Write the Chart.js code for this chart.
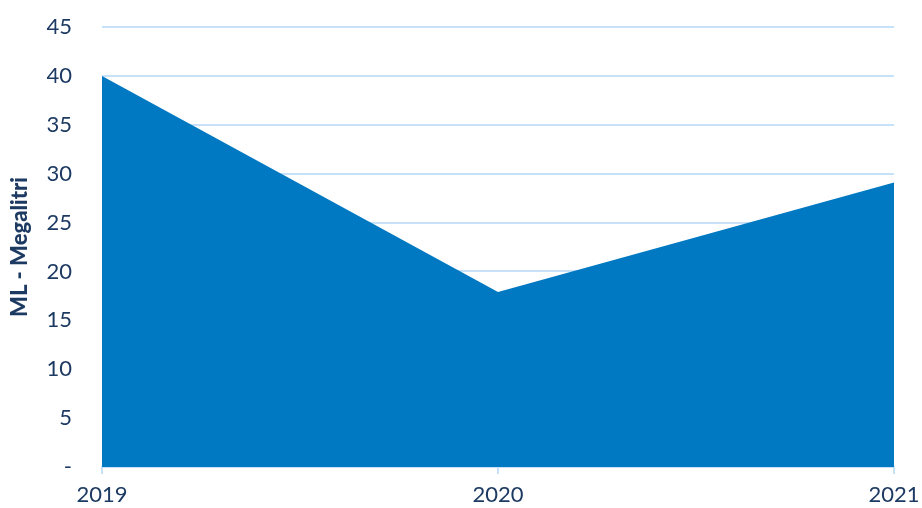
<!DOCTYPE html>
<html>
<head>
<meta charset="utf-8">
<script src="https://cdn.jsdelivr.net/npm/chart.js@4"></script>
<style>
html,body{margin:0;padding:0;background:#fff;}
#wrap{width:922px;height:508px;position:relative;}
</style>
</head>
<body>
<div id="wrap"><canvas id="c" width="922" height="508"></canvas></div>
<script>
const years = ['2019', '2020', '2021'];
const megalitri = [40, 17.9, 29.1];
const yTicks = [0, 5, 10, 15, 20, 25, 30, 35, 40, 45];
const yTitle = 'ML - Megalitri';

const textColor = '#1d3a62';
const gridColor = '#c6e1f8';

new Chart(document.getElementById('c'), {
  type: 'line',
  data: {
    labels: years,
    datasets: [{
      data: megalitri,
      backgroundColor: '#0079c2',
      borderColor: '#0079c2',
      borderWidth: 0,
      pointRadius: 0,
      fill: 'origin',
      tension: 0
    }]
  },
  options: {
    responsive: false,
    animation: false,
    layout: { padding: { left: 0, right: 28, top: 27, bottom: 0 } },
    plugins: { legend: { display: false }, tooltip: { enabled: false } },
    scales: {
      x: {
        offset: false,
        grid: { display: true, drawOnChartArea: false, drawTicks: true, tickLength: 7, color: gridColor, lineWidth: 2 },
        border: { display: true, color: gridColor, width: 2 },
        ticks: { color: textColor, font: { family: 'Lato', size: 22 }, padding: 8, maxRotation: 0, autoSkip: false },
        afterFit: s => { s.height = 41; s.paddingLeft = 0; s.paddingRight = 0; }
      },
      y: {
        min: 0, max: 45,
        afterBuildTicks: s => { s.ticks = yTicks.map(v => ({ value: v })); },
        grid: { color: gridColor, lineWidth: 2, drawTicks: false },
        border: { display: false },
        ticks: {
          color: textColor, font: { family: 'Lato', size: 22 }, padding: 30,
          callback: v => v === 0 ? '-' : String(v)
        },
        title: {
          display: true, text: yTitle, color: textColor,
          font: { family: 'Lato', size: 22, weight: '900' },
          padding: { top: 7, bottom: 0 }
        },
        afterFit: s => { s.width = 102; s.paddingTop = 0; s.paddingBottom = 0; }
      }
    }
  }
});
</script>
</body>
</html>
